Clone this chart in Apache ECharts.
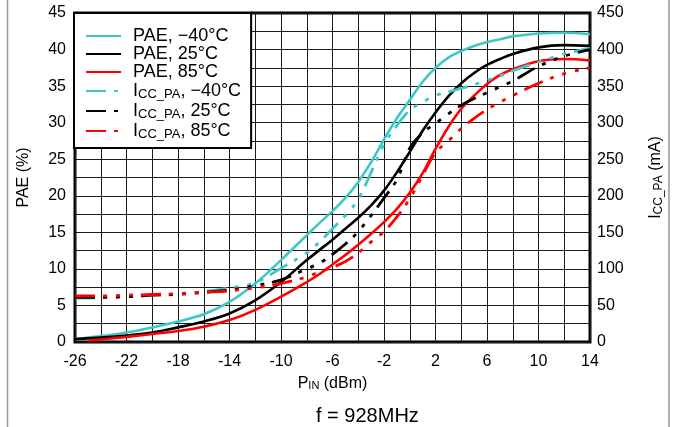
<!DOCTYPE html>
<html>
<head>
<meta charset="utf-8">
<script src="https://cdn.jsdelivr.net/npm/echarts@6/dist/echarts.min.js"></script>
<style>
html,body{margin:0;padding:0;background:#fff;}
#chart{width:676px;height:427px;}
</style>
</head>
<body>
<div id="chart"></div>
<script>
// Input power (dBm)
const pin = [-26,-25,-24,-22,-20,-18,-16,-14,-12,-10,-8,-7,-6,-5,-4,-3,-2,-1,0,1,2,3,4,5,6,7,8,10,12,14];
// PAE (%)
const paeM40 = [0.4,0.6,0.8,1.3,2.0,2.8,3.8,5.5,8.0,11.2,14.6,16.3,17.9,19.7,21.9,24.6,27.7,30.6,33.1,35.6,37.5,38.9,39.8,40.5,41.0,41.4,41.8,42.2,42.3,42.1];
const pae25  = [0.4,0.5,0.6,0.9,1.3,2.0,2.8,3.9,5.7,8.2,11.2,12.6,14.0,15.5,17.0,18.7,20.7,23.2,26.0,28.9,31.4,33.6,35.4,36.8,37.9,38.7,39.4,40.3,40.6,40.5];
const pae85  = [null,0.2,0.35,0.7,1.1,1.5,2.1,3.0,4.4,6.2,8.2,9.3,10.6,11.9,13.3,14.8,16.4,18.2,20.4,23.1,26.4,29.4,31.9,33.7,35.3,36.5,37.3,38.4,38.7,38.5];
// ICC_PA (mA)
const iccM40 = [60,60,61,62,64,66,69,74,81,101,122,137,155,173,195,232,270,296,317,328,337,342,347,352,358,364,371,383,394,402];
const icc25  = [61,61,61,62,64,65,68,71,77,85,100,108,120,134,151,173,197,222,265,286,299,312,324,333,341,349,357,377,391,400];
const icc85  = [63,63,63,64,65,66,68,70,74,80,89,96,102,110,122,137,151,171,196,228,259,275,292,306,318,328,337,354,367,375];
// Axis ticks
const xTicks = {min:-26, max:14, grid:2, label:4};
const yLeft = {min:0, max:45, grid:2.5, label:5};
const yRight = {min:0, max:450, grid:25, label:50};

const names = ['PAE, \u221240\u00b0C','PAE, 25\u00b0C','PAE, 85\u00b0C','ICC_PA, \u221240\u00b0C','ICC_PA, 25\u00b0C','ICC_PA, 85\u00b0C'];
const CYAN = '#3fc6c6', BLACK = '#000000', RED = '#ff0000';
const FONT = '"Liberation Sans", Arial, sans-serif';
const DASH = [20,8,4,9,4,9,4,8];

function pairs(ys){ return pin.map((x,i)=>[x, ys[i]]).filter(p=>p[1]!=null); }

function mkSeries(name, ys, color, dashed, axis){
  return {
    name: name, type:'line', yAxisIndex: axis, data: pairs(ys),
    smooth: 0.35, symbol:'none', showSymbol:false,
    lineStyle: {color: color, width: dashed ? 2.8 : 2.6, type: dashed ? DASH : 'solid'},
    itemStyle: {color: color},
    emphasis: {disabled:true}, animation:false
  };
}

const chart = echarts.init(document.getElementById('chart'), null, {renderer:'canvas'});
const labelStyle = {color:'#000', fontSize:16, fontFamily:FONT};
const rich = {
  n: {fontSize:18, fontFamily:FONT, color:'#000', lineHeight:19},
  s: {fontSize:13, fontFamily:FONT, color:'#000', lineHeight:12, padding:[7,0,0,0]}
};

chart.setOption({
  animation:false,
  backgroundColor:'#fff',
  title: {
    text:'f = 928MHz', left:316, top:406, padding:0,
    textStyle:{fontSize:20, fontWeight:'normal', fontFamily:FONT, color:'#000'}
  },
  graphic: [
    {type:'line', shape:{x1:7.5,y1:0,x2:7.5,y2:427}, style:{stroke:'#999', lineWidth:1.5}, silent:true},
    {type:'line', shape:{x1:669,y1:0,x2:669,y2:427}, style:{stroke:'#999', lineWidth:1.5}, silent:true}
  ],
  grid: {left:75, right:86, top:13, bottom:85, show:true, borderColor:'#000', borderWidth:3, backgroundColor:'transparent'},
  legend: {
    data: names, orient:'vertical', left:74, top:13, padding:[14,10,7,11],
    itemGap:0, itemWidth:35, itemHeight:19,
    itemStyle:{opacity:0},
    backgroundColor:'#fff', borderColor:'#000', borderWidth:2, borderRadius:0,
    textStyle: {fontSize:18, fontFamily:FONT, color:'#000', padding:[0,0,0,7], rich: rich},
    formatter: function(n){
      if (n.indexOf('ICC_PA') === 0) return '{n|I}{s|CC_PA}{n|' + n.slice(6) + '}';
      return '{n|' + n + '}';
    },
    selectedMode:false, z:10
  },
  xAxis: {
    type:'value', min:xTicks.min, max:xTicks.max, interval:xTicks.grid,
    name:'P{s|IN}{n| (dBm)}', nameLocation:'middle', nameGap:27,
    nameTextStyle:{fontSize:16, fontFamily:FONT, color:'#000', rich:{
      n:{fontSize:16, fontFamily:FONT, color:'#000', lineHeight:19},
      s:{fontSize:11, fontFamily:FONT, color:'#000', lineHeight:19, padding:[6,0,0,0]}
    }},
    axisLine:{show:false}, axisTick:{show:false},
    axisLabel:{...labelStyle, margin:12, formatter: v => ((v - xTicks.min) % xTicks.label === 0 ? String(v) : '')},
    splitLine:{show:true, lineStyle:{color:'#1a1a1a', width:1}}
  },
  yAxis: [
    {
      type:'value', min:yLeft.min, max:yLeft.max, interval:yLeft.grid, position:'left',
      name:'PAE (%)', nameLocation:'middle', nameGap:43, nameRotate:90,
      nameTextStyle:{fontSize:16, fontFamily:FONT, color:'#000'},
      axisLine:{show:false}, axisTick:{show:false},
      axisLabel:{...labelStyle, margin:9, formatter: v => (Math.abs(v % yLeft.label) < 1e-9 ? String(v) : '')},
      splitLine:{show:true, lineStyle:{color:'#1a1a1a', width:1}}
    },
    {
      type:'value', min:yRight.min, max:yRight.max, interval:yRight.grid, position:'right',
      name:'I{s|CC_PA}{n| (mA)}', nameLocation:'middle', nameGap:56, nameRotate:90,
      nameTextStyle:{fontSize:16, fontFamily:FONT, color:'#000', rich:{
        n:{fontSize:16, fontFamily:FONT, color:'#000', lineHeight:19},
        s:{fontSize:12, fontFamily:FONT, color:'#000', lineHeight:19, padding:[7,0,0,0]}
      }},
      axisLine:{show:false}, axisTick:{show:false},
      axisLabel:{...labelStyle, margin:7, formatter: v => (v % yRight.label === 0 ? String(v) : '')},
      splitLine:{show:false}
    }
  ],
  series: [
    mkSeries(names[0], paeM40, CYAN, false, 0),
    mkSeries(names[1], pae25, BLACK, false, 0),
    mkSeries(names[2], pae85, RED, false, 0),
    mkSeries(names[3], iccM40, CYAN, true, 1),
    mkSeries(names[4], icc25, BLACK, true, 1),
    mkSeries(names[5], icc85, RED, true, 1)
  ]
});
</script>
</body>
</html>
